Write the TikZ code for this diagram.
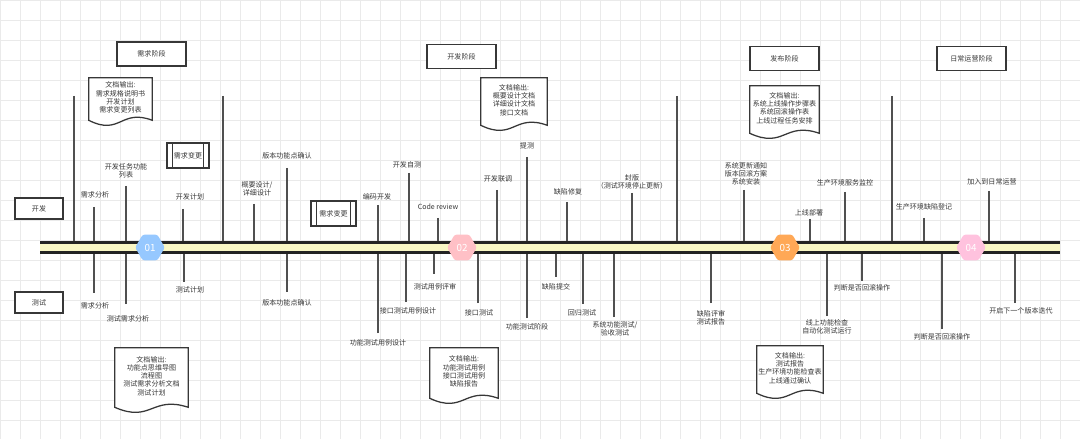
\documentclass[tikz,border=0pt]{standalone}
\usepackage{fontspec}
\newfontfamily\cjk{Noto Sans CJK SC}
\usepackage{tikz}
\usetikzlibrary{positioning,calc,shapes.geometric,backgrounds}
\definecolor{ink}{RGB}{55,55,55}
\definecolor{stem}{RGB}{80,80,80}
\definecolor{railink}{RGB}{35,35,35}
\definecolor{railyellow}{RGB}{248,246,196}
\definecolor{gridgray}{RGB}{234,234,234}
\definecolor{hexblue}{RGB}{150,200,255}
\definecolor{hexrose}{RGB}{255,192,198}
\definecolor{hexorange}{RGB}{255,168,86}
\definecolor{hexpink}{RGB}{255,194,222}

% document shape with a wavy foot, drawn behind its text node
\newcommand{\docwave}[1]{%
  \begin{pgfonlayer}{background}
  \draw[outline] (#1.north west) -- (#1.north east) -- ($(#1.south east)+(0,3)$)
    .. controls ($(#1.south)+(0,-9)$) and ($(#1.south)+(0,19)$) .. ($(#1.south west)+(0,3)$) -- cycle;
  \end{pgfonlayer}}

\begin{document}
\begin{tikzpicture}[x=0.025cm,y=-0.025cm,
  every node/.style={font=\cjk\fontsize{5}{5.9}\selectfont,text=ink},
  lbl/.style={align=center,inner sep=0pt},
  outline/.style={draw=ink,line width=0.9pt,fill=white},
  stagebox/.style={outline,minimum width=1.725cm,minimum height=0.6cm,inner sep=0pt},
  rolebox/.style={stagebox,minimum width=1.2cm,minimum height=0.525cm},
  procbox/.style={stagebox,minimum width=1.05cm,minimum height=0.625cm},
  docbox/.style={align=center,inner sep=0pt},
  tick/.style={draw=stem,line width=1.1pt},
  gridline/.style={draw=gridgray,line width=0.4pt},
  hexnode/.style={regular polygon,regular polygon sides=6,minimum size=0.74cm,inner sep=0pt,
    rounded corners=1.5pt,text=white,font=\cjk\fontsize{7}{8}\selectfont}
]
\useasboundingbox (0,0) rectangle (1080,439);
\begin{scope}[on background layer]
  \fill[white] (0,0) rectangle (1080,439);
  \foreach \g in {0,20,...,1080} \draw[gridline] (\g,0) -- (\g,439);
  \foreach \g in {0,20,...,440} \draw[gridline] (0,\g) -- (1080,\g);
\end{scope}

\coordinate (railL) at (40,247.5);
\coordinate (railR) at (1060,247.5);

% stage separators
\foreach \x [count=\i] in {74,223,677,892} {
  \coordinate (sep\i) at (\x,96);
  \draw[tick] (sep\i) -- (sep\i |- railL);
}

% milestones above and below the rail
\foreach \tx/\te/\lx/\ly/\txt [count=\i] in {
  94/207/95/195/需求分析,
  126/186/126/171/{开发任务功能\\列表},
  183/209/190/197/开发计划,
  254/204/257/189/{概要设计/\\详细设计},
  287/168/287/156/版本功能点确认,
  378/205/377/197/编码开发,
  409/173/407/165/开发自测,
  438/218/438/207/Code review,
  497/190/498/179/开发联调,
  527/157/527/146/提测,
  567/202/568/192/缺陷修复,
  632/193/632/182/{封版\\（测试环境停止更新）},
  744/190/746/174/{系统更新通知\\版本回滚方案\\系统安装},
  810/219/809/213/上线部署,
  845/192/845/183/生产环境服务监控,
  924/218/924/207/生产环境缺陷登记,
  989/191/992/182/加入到日常运营,
  94/293/95/306/需求分析,
  126/304/128/319/测试需求分析,
  184/282/190/290/测试计划,
  287/292/287/303/版本功能点确认,
  378/333/378/343/功能测试用例设计,
  406/302/408/311/接口测试用例设计,
  434/274/435/287/测试用例评审,
  478/303/479/313/接口测试,
  527/318/527/327/功能测试阶段,
  556/277/556/287/缺陷提交,
  583/304/582/313/回归测试,
  614/317/615/329/{系统功能测试/\\验收测试},
  711/303/711/317.5/{缺陷评审\\测试报告},
  827/316/827/326.5/{线上功能检查\\自动化测试运行},
  862/281/862/288/判断是否回滚操作,
  942/329/942/337/判断是否回滚操作,
  1015/303/1021/311/开启下一个版本迭代} {
  \coordinate (tk\i) at (\tx,\te);
  \node[lbl] (lb\i) at (\lx,\ly) {\txt};
  \draw[tick] (tk\i) -- (tk\i |- railL);
}

% the rail
\draw[line width=9.2pt,draw=railink] (railL) -- (railR);
\draw[line width=4.6pt,draw=railyellow] (railL) -- (railR);

\node[hexnode,fill=hexblue] (hex1) at (150,247.5) {01};
\node[hexnode,fill=hexrose] (hex2) at (462,247.5) {02};
\node[hexnode,fill=hexorange] (hex3) at (785,247.5) {03};
\node[hexnode,fill=hexpink] (hex4) at (971,247.5) {04};

% stages and roles
\node[stagebox] (req) at (151.5,54) {需求阶段};
\node[stagebox] (dev) at (461.5,56.5) {开发阶段};
\node[stagebox] (rel) at (784.5,58.5) {发布阶段};
\node[stagebox] (ops) at (971.5,58.5) {日常运营阶段};
\node[rolebox] (coder) at (39,208.5) {开发};
\node[rolebox] (tester) at (39,302.5) {测试};

% change requests
\node[procbox] (chg1) at (188,155.5) {需求变更};
\node[procbox,minimum width=1.125cm] (chg2) at (333.5,213.5) {需求变更};
\foreach \n in {chg1,chg2} {
  \draw[draw=ink,line width=0.9pt] ($(\n.north west)+(6,0)$) -- ($(\n.south west)+(6,0)$);
  \draw[draw=ink,line width=0.9pt] ($(\n.north east)+(-6,0)$) -- ($(\n.south east)+(-6,0)$);
}

% document outputs
\node[docbox,minimum width=1.575cm,minimum height=0.975cm] (doc1) at (120.5,97.5)
  {文档输出:\\需求规格说明书\\开发计划\\需求变更列表};
\node[docbox,minimum width=1.65cm,minimum height=1.1cm] (doc2) at (514,100)
  {文档输出:\\概要设计文档\\详细设计文档\\接口文档};
\node[docbox,minimum width=1.725cm,minimum height=1.1cm] (doc3) at (784.5,108)
  {文档输出:\\系统上线操作步骤表\\系统回滚操作表\\上线过程任务安排};
\node[docbox,minimum width=1.825cm,minimum height=1.4cm] (doc4) at (151.5,376)
  {文档输出:\\功能点思维导图\\流程图\\测试需求分析文档\\测试计划};
\node[docbox,minimum width=1.7cm,minimum height=1.175cm] (doc5) at (464,371.5)
  {文档输出:\\功能测试用例\\接口测试用例\\缺陷报告};
\node[docbox,minimum width=1.65cm,minimum height=1.1cm] (doc6) at (790,368)
  {文档输出:\\测试报告\\生产环境功能检查表\\上线通过确认};
\foreach \n in {doc1,doc2,doc3,doc4,doc5,doc6} {\docwave{\n}}
\end{tikzpicture}
\end{document}
